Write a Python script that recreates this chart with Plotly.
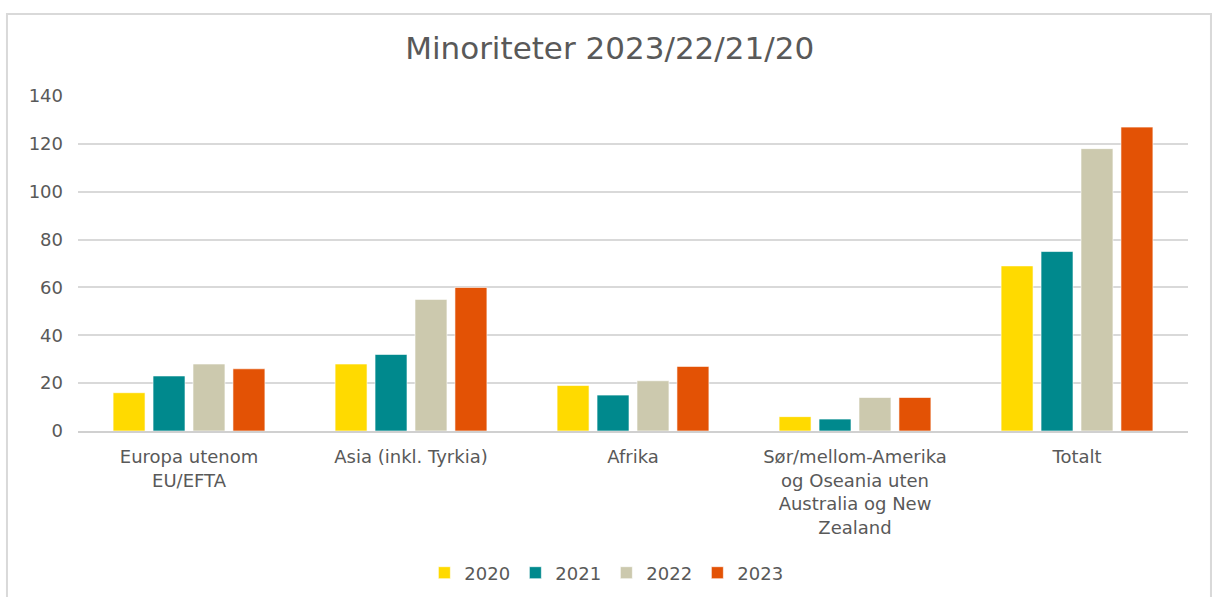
import plotly.graph_objects as go

categories = [
    "Europa utenom<br>EU/EFTA",
    "Asia (inkl. Tyrkia)",
    "Afrika",
    "Sør/mellom-Amerika<br>og Oseania uten<br>Australia og New<br>Zealand",
    "Totalt",
]
years = ["2020", "2021", "2022", "2023"]
values_2020 = [16, 28, 19, 6, 69]
values_2021 = [23, 32, 15, 5, 75]
values_2022 = [28, 55, 21, 14, 118]
values_2023 = [26, 60, 27, 14, 127]
y_ticks = [0, 20, 40, 60, 80, 100, 120, 140]

series = [values_2020, values_2021, values_2022, values_2023]
colors = ["#FFDA00", "#00898D", "#CCC9AE", "#E35205"]
font = "DejaVu Sans, Verdana, sans-serif"

fig = go.Figure()
for name, vals, col in zip(years, series, colors):
    fig.add_trace(go.Bar(x=categories, y=vals, name=name,
                         marker=dict(color=col, line=dict(color="rgba(255,255,255,0.6)", width=1))))

fig.update_layout(
    width=1212, height=597,
    paper_bgcolor="white", plot_bgcolor="white",
    margin=dict(l=78, r=24, t=96, b=166),
    barmode="group", bargap=0.28, bargroupgap=0.2,
    font=dict(family=font, size=18, color="#595959"),
    title=dict(text="Minoriteter 2023/22/21/20", x=0.503, xanchor="center",
               y=1 - 48 / 597, yanchor="middle",
               font=dict(family=font, size=31, color="#595959")),
    legend=dict(orientation="h", x=0.476, xanchor="center",
                yref="container", y=1 - 573 / 597, yanchor="middle",
                font=dict(size=18, color="#595959"), itemwidth=30,
                traceorder="normal", entrywidth=46),
    shapes=[dict(type="rect", xref="paper", yref="paper",
                 x0=-0.064, x1=1.0207, y0=-0.6, y1=1.2448,
                 line=dict(color="#D9D9D9", width=2), fillcolor="rgba(0,0,0,0)")],
)
fig.update_yaxes(range=[0, 140], tickvals=y_ticks, showgrid=True, gridcolor="#D9D9D9",
                 gridwidth=1.5, zeroline=False, showline=False, ticklabelstandoff=14)
fig.update_xaxes(showline=True, linecolor="#D0D0D0", linewidth=1.5, showgrid=False,
                 tickangle=0, ticklabelstandoff=9)

fig.write_html("out.html", config={"displayModeBar": False},
               post_script="document.body.style.margin='0';")
